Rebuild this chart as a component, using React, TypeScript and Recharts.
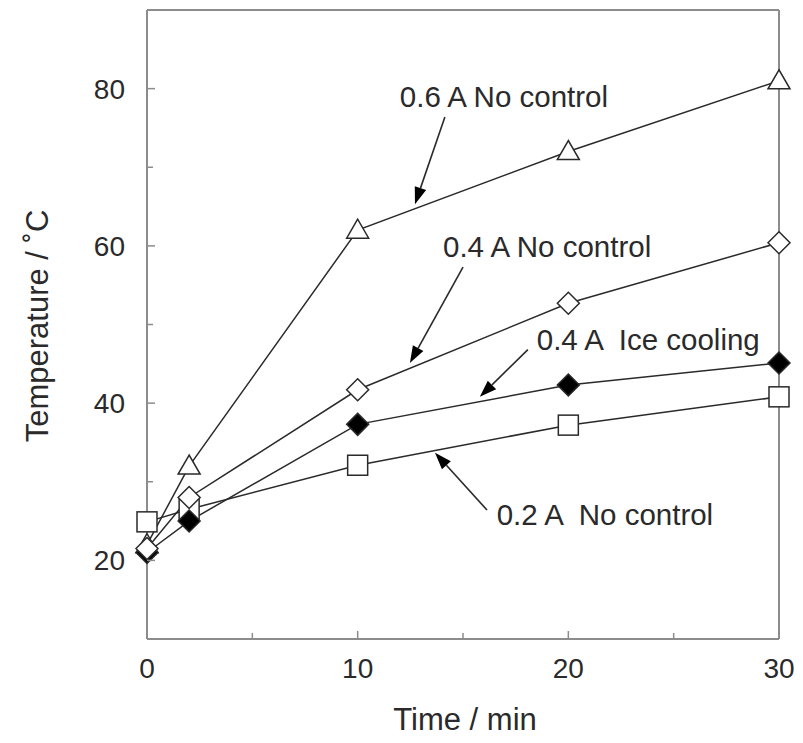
import React from 'react';
import {
  LineChart,
  Line,
  XAxis,
  YAxis,
  ReferenceLine,
  ReferenceDot,
} from 'recharts';

const times = [0, 2, 10, 20, 30];
const temp06 = [22, 32, 62, 72, 81];
const temp04 = [21.5, 28, 41.7, 52.7, 60.4];
const temp04Ice = [21, 25, 37.3, 42.3, 45.1];
const temp02 = [24.9, 26.5, 32.1, 37.2, 40.8];

const xTicks = [0, 5, 10, 15, 20, 25, 30];
const xLabeled = [0, 10, 20, 30];
const yTicks = [20, 30, 40, 50, 60, 70, 80];
const yLabeled = [20, 40, 60, 80];

const labelTexts = ['0.6 A No control', '0.4 A No control', '0.4 A  Ice cooling', '0.2 A  No control'];
const labelAt = [[12.0, 78.9], [14.05, 59.9], [18.5, 48.0], [16.6, 25.8]];
const arrowFrom = [[14.14, 76.4], [15.0, 57.3], [18.08, 46.8], [16.14, 26.4]];
const arrowTo = [[12.72, 65.3], [12.48, 45.1], [15.8, 40.8], [13.67, 33.7]];

const data = times.map((t, i) => ({
  time: t,
  a06: temp06[i],
  a04: temp04[i],
  ice: temp04Ice[i],
  a02: temp02[i],
}));

const FONT = '"Liberation Sans", Arial, sans-serif';
const AXIS = '#8c8c8c';
const INK = '#2a2a2a';

const XTick = (props: any) => {
  const { x, y, payload } = props;
  const major = xLabeled.includes(payload.value);
  return (
    <g>
      <line x1={x} y1={y} x2={x} y2={y - (major ? 8 : 6)} stroke={AXIS} strokeWidth={1.5} />
      {major && (
        <text x={x} y={y + 39} textAnchor="middle" fontSize={28} fontFamily={FONT} fill={INK}>
          {payload.value}
        </text>
      )}
    </g>
  );
};

const YTick = (props: any) => {
  const { x, y, payload } = props;
  const major = yLabeled.includes(payload.value);
  return (
    <g>
      <line x1={x} y1={y} x2={x + (major ? 8 : 6)} y2={y} stroke={AXIS} strokeWidth={1.5} />
      {major && (
        <text x={x - 22} y={y + 10} textAnchor="end" fontSize={28} fontFamily={FONT} fill={INK}>
          {payload.value}
        </text>
      )}
    </g>
  );
};

const Triangle = (props: any) => {
  const { cx, cy } = props;
  if (cx == null || cy == null) return null;
  return (
    <polygon
      points={`${cx},${cy - 11} ${cx - 11},${cy + 8} ${cx + 11},${cy + 8}`}
      fill="#fff"
      stroke={INK}
      strokeWidth={1.5}
    />
  );
};

const Square = (props: any) => {
  const { cx, cy } = props;
  if (cx == null || cy == null) return null;
  return <rect x={cx - 10} y={cy - 10} width={20} height={20} fill="#fff" stroke={INK} strokeWidth={1.5} />;
};

const makeDiamond = (fill: string) => (props: any) => {
  const { cx, cy } = props;
  if (cx == null || cy == null) return null;
  return (
    <polygon
      points={`${cx},${cy - 11} ${cx + 11},${cy} ${cx},${cy + 11} ${cx - 11},${cy}`}
      fill={fill}
      stroke={INK}
      strokeWidth={1.5}
    />
  );
};
const OpenDiamond = makeDiamond('#fff');
const FilledDiamond = makeDiamond('#000');

const Arrow = (props: any) => {
  const { x1, y1, x2, y2 } = props;
  const dx = x2 - x1;
  const dy = y2 - y1;
  const len = Math.sqrt(dx * dx + dy * dy) || 1;
  const ux = dx / len;
  const uy = dy / len;
  const hl = 17;
  const hw = 6;
  const bx = x2 - ux * hl;
  const by = y2 - uy * hl;
  return (
    <g>
      <line x1={x1} y1={y1} x2={bx} y2={by} stroke={INK} strokeWidth={1.6} />
      <polygon
        points={`${x2},${y2} ${bx - uy * hw},${by + ux * hw} ${bx + uy * hw},${by - ux * hw}`}
        fill="#000"
      />
    </g>
  );
};

const makeLabel = (text: string) => (props: any) => {
  const { cx, cy } = props;
  return (
    <text
      x={cx}
      y={cy + 10}
      fontSize={29.5}
      fontFamily={FONT}
      fill={INK}
      style={{ whiteSpace: 'pre' }}
    >
      {text}
    </text>
  );
};

export default function App() {
  return (
    <div style={{ position: 'absolute', left: 0, top: 0, width: 803, height: 743, background: '#fff' }}>
      <LineChart width={803} height={743} data={data} margin={{ top: 10, right: 24, left: 0, bottom: 0 }}>
        <XAxis
          dataKey="time"
          type="number"
          domain={[0, 30]}
          ticks={xTicks}
          interval={0}
          height={104}
          tickSize={0}
          tickMargin={0}
          tickLine={false}
          tick={<XTick />}
          axisLine={{ stroke: AXIS, strokeWidth: 2 }}
        />
        <YAxis
          type="number"
          domain={[10, 90]}
          ticks={yTicks}
          interval={0}
          width={147}
          tickSize={0}
          tickMargin={0}
          tickLine={false}
          tick={<YTick />}
          axisLine={{ stroke: AXIS, strokeWidth: 2 }}
        />
        <ReferenceLine x={30} stroke={AXIS} strokeWidth={2} ifOverflow="visible" />
        <ReferenceLine y={90} stroke={AXIS} strokeWidth={2} ifOverflow="visible" />
        {labelTexts.map((t, i) => (
          <ReferenceLine
            key={`arrow-${i}`}
            segment={[
              { x: arrowFrom[i][0], y: arrowFrom[i][1] },
              { x: arrowTo[i][0], y: arrowTo[i][1] },
            ]}
            ifOverflow="visible"
            shape={<Arrow />}
          />
        ))}
        {labelTexts.map((t, i) => (
          <ReferenceDot
            key={`label-${i}`}
            x={labelAt[i][0]}
            y={labelAt[i][1]}
            ifOverflow="visible"
            shape={makeLabel(t)}
          />
        ))}
        <Line dataKey="a02" stroke={INK} strokeWidth={1.5} dot={<Square />} isAnimationActive={false} />
        <Line dataKey="a06" stroke={INK} strokeWidth={1.5} dot={<Triangle />} isAnimationActive={false} />
        <Line dataKey="ice" stroke={INK} strokeWidth={1.5} dot={<FilledDiamond />} isAnimationActive={false} />
        <Line dataKey="a04" stroke={INK} strokeWidth={1.5} dot={<OpenDiamond />} isAnimationActive={false} />
      </LineChart>
      <div
        style={{
          position: 'absolute',
          left: 465,
          top: 720,
          transform: 'translate(-50%, -50%)',
          fontFamily: FONT,
          fontSize: 31,
          color: INK,
          whiteSpace: 'nowrap',
        }}
      >
        Time / min
      </div>
      <div
        style={{
          position: 'absolute',
          left: 38,
          top: 326,
          transform: 'translate(-50%, -50%) rotate(-90deg)',
          fontFamily: FONT,
          fontSize: 31,
          color: INK,
          whiteSpace: 'nowrap',
        }}
      >
        Temperature / ˚C
      </div>
    </div>
  );
}
